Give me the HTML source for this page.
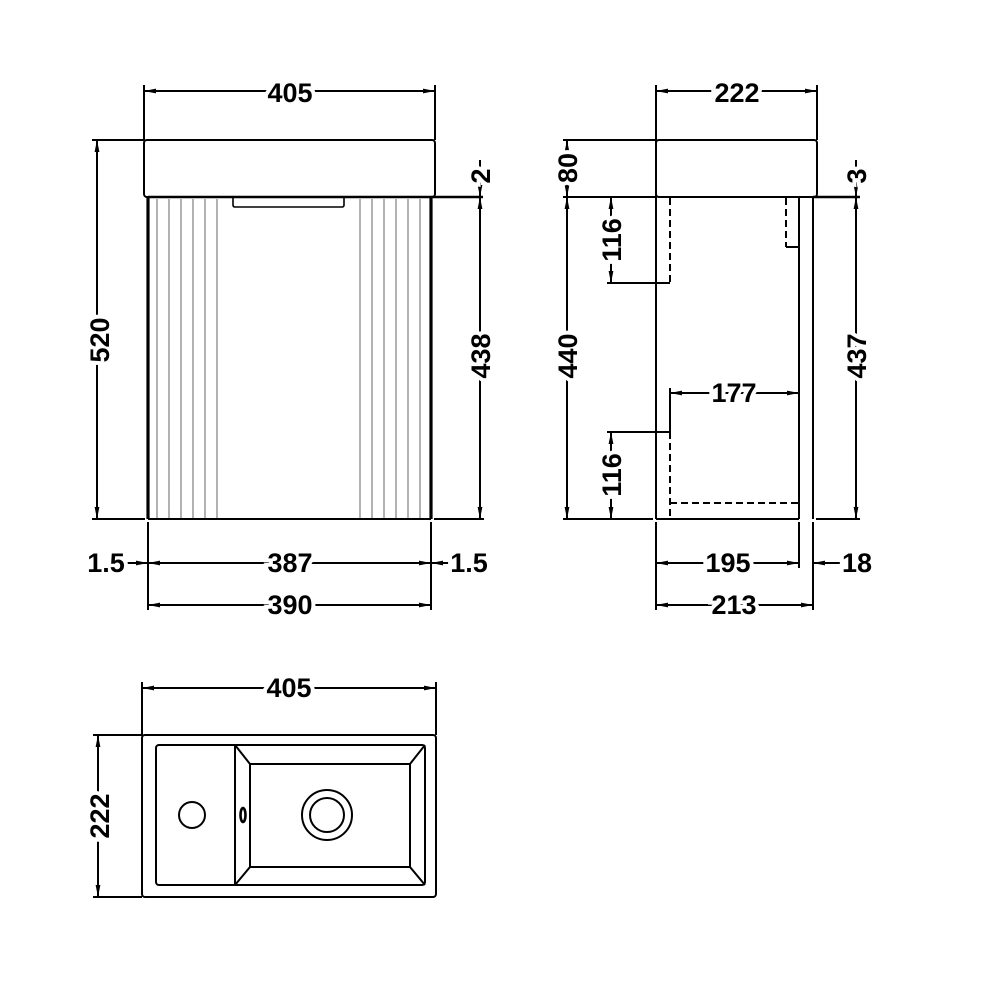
<!DOCTYPE html>
<html><head><meta charset="utf-8"><style>
html,body{margin:0;padding:0;background:#fff}
svg{display:block}
text{font-family:"Liberation Sans",sans-serif;font-weight:bold;font-size:27px;fill:#000;paint-order:stroke;stroke:#fff;stroke-width:8px;text-anchor:middle;dominant-baseline:central}
</style></head><body>
<svg width="1000" height="1000" viewBox="0 0 1000 1000" xmlns="http://www.w3.org/2000/svg">
<defs>
<marker id="a" viewBox="0 0 10 10" refX="10" refY="5" markerWidth="6" markerHeight="6" orient="auto-start-reverse"><path d="M0,3 L10,5 L0,7 z" fill="#000"/></marker>
</defs>
<g fill="none" stroke="#000" stroke-width="2">
<!-- FRONT VIEW -->
<rect x="144" y="140" width="291" height="57" rx="3"/>
<line x1="148" y1="197" x2="148" y2="519" stroke-width="3.2"/>
<line x1="431" y1="197" x2="431" y2="519" stroke-width="3.2"/>
<line x1="148" y1="197" x2="483" y2="197" stroke-width="2.6"/>
<line x1="92" y1="519" x2="145" y2="519"/>
<line x1="148" y1="519" x2="431" y2="519"/>
<line x1="434" y1="519" x2="484" y2="519"/>
<path d="M233,198 v7 q0,2 2,2 h107 q2,0 2,-2 v-7" stroke-width="1.6"/>
<g stroke="#888" stroke-width="1.3">
<line x1="157" y1="199" x2="157" y2="518"/><line x1="169" y1="199" x2="169" y2="518"/><line x1="181" y1="199" x2="181" y2="518"/><line x1="193" y1="199" x2="193" y2="518"/><line x1="205" y1="199" x2="205" y2="518"/><line x1="217" y1="199" x2="217" y2="518"/>
<line x1="360" y1="199" x2="360" y2="518"/><line x1="372" y1="199" x2="372" y2="518"/><line x1="384" y1="199" x2="384" y2="518"/><line x1="396" y1="199" x2="396" y2="518"/><line x1="408" y1="199" x2="408" y2="518"/><line x1="420" y1="199" x2="420" y2="518"/>
</g>
<!-- front dims -->
<line x1="144" y1="85" x2="144" y2="140"/><line x1="435" y1="85" x2="435" y2="140"/>
<line x1="144" y1="91" x2="435" y2="91" marker-start="url(#a)" marker-end="url(#a)"/>
<line x1="92" y1="140" x2="144" y2="140"/>
<line x1="97" y1="140" x2="97" y2="519" marker-start="url(#a)" marker-end="url(#a)"/>
<line x1="480" y1="197" x2="480" y2="519" marker-start="url(#a)" marker-end="url(#a)"/>
<line x1="480" y1="160" x2="480" y2="197" marker-end="url(#a)"/>
<line x1="148" y1="522" x2="148" y2="610"/><line x1="431" y1="522" x2="431" y2="610"/>
<line x1="148" y1="563" x2="431" y2="563" marker-start="url(#a)" marker-end="url(#a)"/>
<line x1="125" y1="563" x2="148" y2="563" marker-end="url(#a)"/>
<line x1="455" y1="563" x2="431" y2="563" marker-end="url(#a)"/>
<line x1="148" y1="605" x2="431" y2="605" marker-start="url(#a)" marker-end="url(#a)"/>

<!-- SIDE VIEW -->
<rect x="656" y="140" width="161" height="57" rx="3"/>
<line x1="656" y1="85" x2="656" y2="519"/>
<line x1="817" y1="85" x2="817" y2="140"/>
<line x1="656" y1="91" x2="817" y2="91" marker-start="url(#a)" marker-end="url(#a)"/>
<line x1="563" y1="140" x2="656" y2="140"/>
<line x1="563" y1="197" x2="656" y2="197"/>
<line x1="813" y1="197" x2="860" y2="197" stroke-width="2.6"/>
<line x1="799" y1="197" x2="799" y2="519"/>
<line x1="813" y1="197" x2="813" y2="519"/>
<line x1="563" y1="519" x2="653" y2="519"/>
<line x1="656" y1="519" x2="799" y2="519"/>
<line x1="816" y1="519" x2="860" y2="519"/>
<g stroke-dasharray="7,4">
<path d="M670,198 V283"/><path d="M786,198 V247"/>
<path d="M670,432 V519"/><path d="M670,503 H799"/>
</g>
<line x1="656" y1="283" x2="670" y2="283"/>
<line x1="786" y1="247" x2="799" y2="247"/>
<line x1="656" y1="432" x2="670" y2="432"/>
<!-- side dims -->
<line x1="567" y1="140" x2="567" y2="197" marker-start="url(#a)" marker-end="url(#a)"/>
<line x1="567" y1="197" x2="567" y2="519" marker-start="url(#a)" marker-end="url(#a)"/>
<line x1="607" y1="283" x2="656" y2="283"/>
<line x1="611" y1="197" x2="611" y2="283" marker-start="url(#a)" marker-end="url(#a)"/>
<line x1="607" y1="432" x2="656" y2="432"/>
<line x1="611" y1="432" x2="611" y2="519" marker-start="url(#a)" marker-end="url(#a)"/>
<line x1="670" y1="388" x2="670" y2="432"/>
<line x1="670" y1="393" x2="799" y2="393" marker-start="url(#a)" marker-end="url(#a)"/>
<line x1="856" y1="160" x2="856" y2="197" marker-end="url(#a)"/>
<line x1="856" y1="197" x2="856" y2="519" marker-start="url(#a)" marker-end="url(#a)"/>
<line x1="656" y1="522" x2="656" y2="610"/>
<line x1="799" y1="522" x2="799" y2="568"/>
<line x1="813" y1="522" x2="813" y2="610"/>
<line x1="656" y1="563" x2="799" y2="563" marker-start="url(#a)" marker-end="url(#a)"/>
<line x1="840" y1="563" x2="813" y2="563" marker-end="url(#a)"/>
<line x1="656" y1="605" x2="813" y2="605" marker-start="url(#a)" marker-end="url(#a)"/>

<!-- PLAN VIEW -->
<rect x="142" y="735" width="294" height="162" rx="3"/>
<rect x="156" y="745" width="269" height="140" rx="3"/>
<line x1="235" y1="745" x2="235" y2="885"/>
<rect x="250" y="764" width="160" height="103"/>
<line x1="235" y1="745" x2="250" y2="764"/><line x1="425" y1="745" x2="410" y2="764"/>
<line x1="235" y1="885" x2="250" y2="867"/><line x1="425" y1="885" x2="410" y2="867"/>
<circle cx="192" cy="815" r="13"/>
<ellipse cx="243" cy="815" rx="2.5" ry="7" stroke-width="2.6"/>
<circle cx="327" cy="815" r="25"/>
<circle cx="327" cy="815" r="17"/>
<line x1="142" y1="682" x2="142" y2="735"/><line x1="436" y1="682" x2="436" y2="735"/>
<line x1="142" y1="688" x2="436" y2="688" marker-start="url(#a)" marker-end="url(#a)"/>
<line x1="93" y1="735" x2="142" y2="735"/><line x1="93" y1="897" x2="142" y2="897"/>
<line x1="98" y1="735" x2="98" y2="897" marker-start="url(#a)" marker-end="url(#a)"/>
</g>
<!-- LABELS -->
<text x="290" y="93">405</text>
<text x="737" y="93">222</text>
<text x="100" y="340" transform="rotate(-90 100 340)">520</text>
<text x="481" y="356" transform="rotate(-90 481 356)">438</text>
<text x="481" y="176" transform="rotate(-90 481 176)">2</text>
<text x="290" y="563">387</text>
<text x="106" y="563">1.5</text>
<text x="469" y="563">1.5</text>
<text x="290" y="605">390</text>
<text x="568" y="168" transform="rotate(-90 568 168)">80</text>
<text x="612" y="240" transform="rotate(-90 612 240)">116</text>
<text x="568" y="356" transform="rotate(-90 568 356)">440</text>
<text x="612" y="475" transform="rotate(-90 612 475)">116</text>
<text x="857" y="176" transform="rotate(-90 857 176)">3</text>
<text x="857" y="356" transform="rotate(-90 857 356)">437</text>
<text x="734" y="393">177</text>
<text x="728" y="563">195</text>
<text x="857" y="563">18</text>
<text x="734" y="605">213</text>
<text x="289" y="688">405</text>
<text x="100" y="816" transform="rotate(-90 100 816)">222</text>
</svg>
</body></html>
